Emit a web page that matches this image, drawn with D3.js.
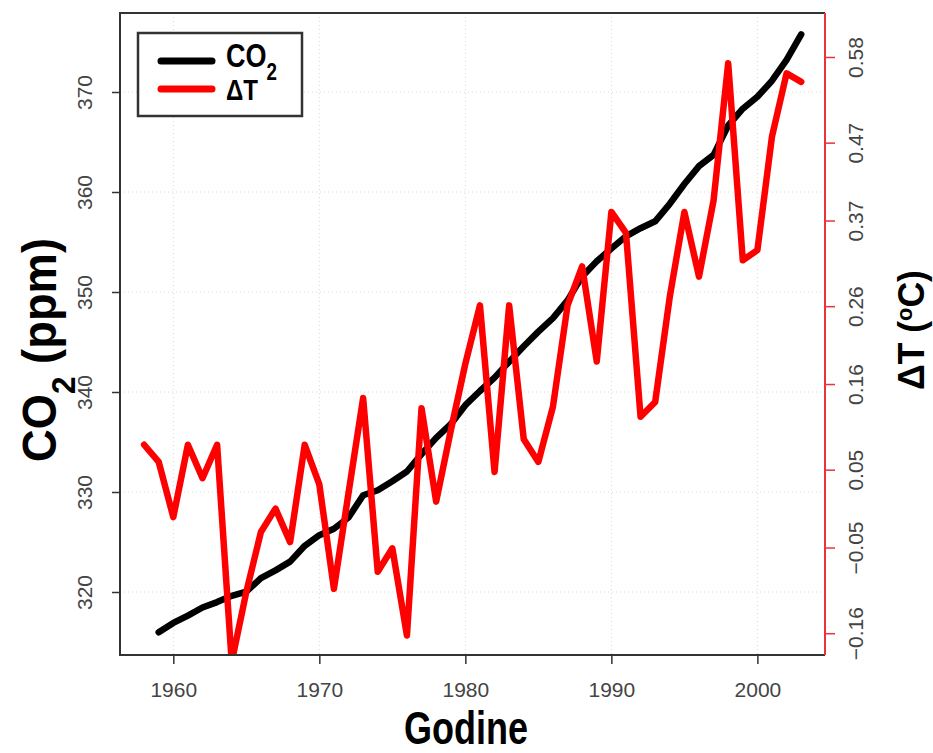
<!DOCTYPE html>
<html>
<head>
<meta charset="utf-8">
<script src="https://cdn.jsdelivr.net/npm/d3@7"></script>
<style>
  body { margin: 0; background: #fff; }
  svg { display: block; }
</style>
</head>
<body>
<div id="chart"></div>
<script>
// years for each series
const co2Years = [1959, 1960, 1961, 1962, 1963, 1964, 1965, 1966, 1967, 1968, 1969, 1970, 1971, 1972, 1973, 1974, 1975, 1976, 1977, 1978, 1979, 1980, 1981, 1982, 1983, 1984, 1985, 1986, 1987, 1988, 1989, 1990, 1991, 1992, 1993, 1994, 1995, 1996, 1997, 1998, 1999, 2000, 2001, 2002, 2003];
// CO2 in ppm
const co2Values = [315.97, 316.91, 317.64, 318.45, 318.99, 319.62, 320.04, 321.38, 322.16, 323.04, 324.62, 325.68, 326.32, 327.45, 329.68, 330.18, 331.08, 332.05, 333.78, 335.41, 336.78, 338.68, 340.10, 341.44, 343.03, 344.58, 346.04, 347.39, 349.16, 351.56, 353.07, 354.35, 355.57, 356.38, 357.07, 358.82, 360.80, 362.59, 363.71, 366.65, 368.33, 369.52, 371.13, 373.22, 375.77];

const tempYears = [1958, 1959, 1960, 1961, 1962, 1963, 1964, 1965, 1966, 1967, 1968, 1969, 1970, 1971, 1972, 1973, 1974, 1975, 1976, 1977, 1978, 1979, 1980, 1981, 1982, 1983, 1984, 1985, 1986, 1987, 1988, 1989, 1990, 1991, 1992, 1993, 1994, 1995, 1996, 1997, 1998, 1999, 2000, 2001, 2002, 2003];
// temperature anomaly, deg C
const tempValues = [0.082, 0.060, -0.011, 0.082, 0.039, 0.082, -0.197, -0.107, -0.030, 0.000, -0.043, 0.082, 0.031, -0.103, 0.020, 0.142, -0.081, -0.051, -0.163, 0.129, 0.009, 0.100, 0.186, 0.261, 0.047, 0.261, 0.089, 0.060, 0.131, 0.261, 0.311, 0.189, 0.381, 0.354, 0.118, 0.137, 0.272, 0.381, 0.298, 0.396, 0.572, 0.319, 0.332, 0.478, 0.559, 0.548];

// tick labels
const yearTicks = [1960, 1970, 1980, 1990, 2000];
const co2Ticks = [320, 330, 340, 350, 360, 370];
const tempTicks = [-0.16, -0.05, 0.05, 0.16, 0.26, 0.37, 0.47, 0.58];

const width = 933;
const height = 753;
const plot = { left: 120, right: 825, top: 13, bottom: 655 };

const bold = "'Liberation Sans Narrow', 'Arial Narrow', 'Liberation Sans', Arial, sans-serif";
const regular = "'Liberation Sans', Arial, Helvetica, sans-serif";

const svg = d3.select("#chart")
    .append("svg")
    .attr("width", width)
    .attr("height", height)
    .style("background", "#fff");

const x = d3.scaleLinear().domain([1956.35, 2004.63]).range([plot.left, plot.right]);
const yCo2 = d3.scaleLinear().domain([313.7, 377.9]).range([plot.bottom, plot.top]);
const yTemp = d3.scaleLinear().domain([-0.188, 0.6365]).range([plot.bottom, plot.top]);

// dotted grid
const grid = svg.append("g").attr("stroke", "#d8d8d8").attr("stroke-width", 1).attr("stroke-dasharray", "1,3");
grid.selectAll("line.v").data(yearTicks).enter().append("line")
    .attr("x1", (d) => x(d)).attr("x2", (d) => x(d))
    .attr("y1", plot.top).attr("y2", plot.bottom);
grid.selectAll("line.h").data(co2Ticks).enter().append("line")
    .attr("x1", plot.left).attr("x2", plot.right)
    .attr("y1", (d) => yCo2(d)).attr("y2", (d) => yCo2(d));

// clip to the plot box
svg.append("clipPath").attr("id", "clip")
    .append("rect")
    .attr("x", plot.left).attr("y", plot.top)
    .attr("width", plot.right - plot.left).attr("height", plot.bottom - plot.top);

const lines = svg.append("g").attr("clip-path", "url(#clip)");

const co2Line = d3.line().x((d, i) => x(co2Years[i])).y((d) => yCo2(d));
const tempLine = d3.line().x((d, i) => x(tempYears[i])).y((d) => yTemp(d));

lines.append("path")
    .attr("d", co2Line(co2Values))
    .attr("fill", "none")
    .attr("stroke", "#000")
    .attr("stroke-width", 6.5)
    .attr("stroke-linejoin", "round")
    .attr("stroke-linecap", "round");

lines.append("path")
    .attr("d", tempLine(tempValues))
    .attr("fill", "none")
    .attr("stroke", "#ff0000")
    .attr("stroke-width", 6.5)
    .attr("stroke-linejoin", "round")
    .attr("stroke-linecap", "round");

// box (top, left, bottom)
svg.append("path")
    .attr("d", `M${plot.right},${plot.top}H${plot.left}V${plot.bottom}H${plot.right}`)
    .attr("fill", "none")
    .attr("stroke", "#333")
    .attr("stroke-width", 2);

// bottom axis
const xAxis = svg.append("g")
    .attr("transform", `translate(0,${plot.bottom})`)
    .call(d3.axisBottom(x).tickValues(yearTicks).tickFormat(d3.format("d")).tickSize(9).tickSizeOuter(0));
xAxis.select(".domain").remove();
xAxis.selectAll(".tick line").attr("stroke", "#333").attr("stroke-width", 1.5);
xAxis.selectAll(".tick text")
    .attr("y", 42).attr("dy", 0)
    .attr("fill", "#444")
    .style("font-family", regular)
    .style("font-size", "21px");

// left axis
const leftAxis = svg.append("g")
    .attr("transform", `translate(${plot.left},0)`)
    .call(d3.axisLeft(yCo2).tickValues(co2Ticks).tickSize(8).tickSizeOuter(0));
leftAxis.select(".domain").remove();
leftAxis.selectAll(".tick line").attr("stroke", "#333").attr("stroke-width", 1.5);
leftAxis.selectAll(".tick text")
    .attr("transform", "rotate(-90)")
    .attr("x", 0).attr("y", -28).attr("dy", 0)
    .attr("text-anchor", "middle")
    .attr("fill", "#444")
    .style("font-family", regular)
    .style("font-size", "21px");

// right axis (red)
const rightAxis = svg.append("g")
    .attr("transform", `translate(${plot.right},0)`)
    .call(d3.axisRight(yTemp).tickValues(tempTicks).tickFormat(d3.format(".2f")).tickSize(10).tickSizeOuter(0));
rightAxis.select(".domain")
    .attr("d", `M0,${plot.top}V${plot.bottom}`)
    .attr("stroke", "#e8333c").attr("stroke-width", 2);
rightAxis.selectAll(".tick line").attr("stroke", "#e8333c").attr("stroke-width", 1.5);
rightAxis.selectAll(".tick text")
    .attr("transform", "rotate(-90)")
    .attr("x", 0).attr("y", 38).attr("dy", 0)
    .attr("text-anchor", "middle")
    .attr("fill", "#444")
    .style("font-family", regular)
    .style("font-size", "21px");

// axis titles (condensed bold, squeezed with textLength)
svg.append("text")
    .attr("x", 466).attr("y", 744)
    .attr("text-anchor", "middle")
    .attr("textLength", 124)
    .attr("lengthAdjust", "spacingAndGlyphs")
    .style("font-family", bold)
    .style("font-weight", "bold")
    .style("font-size", "46px")
    .text("Godine");

const yTitle = svg.append("text")
    .attr("transform", "translate(56,350) rotate(-90)")
    .attr("text-anchor", "middle")
    .attr("textLength", 224)
    .attr("lengthAdjust", "spacingAndGlyphs")
    .style("font-family", bold)
    .style("font-weight", "bold")
    .style("font-size", "49px");
yTitle.append("tspan").text("CO");
yTitle.append("tspan").attr("baseline-shift", "sub").style("font-size", "34px").text("2");
yTitle.append("tspan").text(" (ppm)");

const tTitle = svg.append("text")
    .attr("transform", "translate(924,330) rotate(-90)")
    .attr("text-anchor", "middle")
    .attr("textLength", 120)
    .attr("lengthAdjust", "spacingAndGlyphs")
    .style("font-family", bold)
    .style("font-weight", "bold")
    .style("font-size", "36px");
tTitle.append("tspan").text("\u0394T (");
tTitle.append("tspan").attr("baseline-shift", "super").style("font-size", "22px").text("o");
tTitle.append("tspan").text("C)");

// legend
const legend = svg.append("g");
legend.append("rect")
    .attr("x", 138).attr("y", 33)
    .attr("width", 164).attr("height", 83)
    .attr("fill", "#fff")
    .attr("stroke", "#333")
    .attr("stroke-width", 2.5);

const legendItems = [
    { color: "#000", y: 61 },
    { color: "#ff0000", y: 89 },
];
legend.selectAll("line.key").data(legendItems).enter().append("line")
    .attr("x1", 161).attr("x2", 212)
    .attr("y1", (d) => d.y).attr("y2", (d) => d.y)
    .attr("stroke", (d) => d.color)
    .attr("stroke-width", 7)
    .attr("stroke-linecap", "round");

const l1 = legend.append("text")
    .attr("x", 226).attr("y", 67)
    .attr("textLength", 51)
    .attr("lengthAdjust", "spacingAndGlyphs")
    .style("font-family", bold)
    .style("font-weight", "bold")
    .style("font-size", "33px");
l1.append("tspan").text("CO");
l1.append("tspan").attr("baseline-shift", "sub").style("font-size", "23px").text("2");

legend.append("text")
    .attr("x", 226).attr("y", 100)
    .attr("textLength", 32)
    .attr("lengthAdjust", "spacingAndGlyphs")
    .style("font-family", bold)
    .style("font-weight", "bold")
    .style("font-size", "30px")
    .text("\u0394T");
</script>
</body>
</html>
